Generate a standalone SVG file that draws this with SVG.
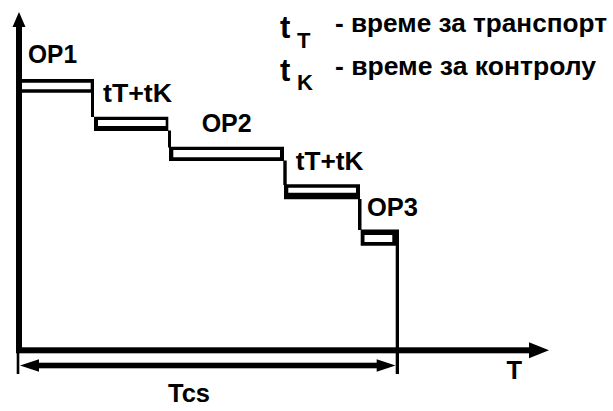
<svg xmlns="http://www.w3.org/2000/svg" width="613" height="411" viewBox="0 0 613 411">
<style>
.bg{fill:#ffffff}
.blk{fill:#000000;fill-rule:evenodd}
.lbl{font-family:"Liberation Sans",Arial,Helvetica,sans-serif;font-weight:bold;fill:#000000}
.leg{font-size:26px}
.big{font-size:31px}
.sub{font-size:22px}
.op{font-size:25.5px}
</style>
<rect class="bg" x="0" y="0" width="613" height="411"/>
<g id="connectors">
  <!-- Y axis -->
  <rect class="blk" x="16" y="26" width="6" height="327"/>
  <path class="blk" d="M19 12 L25.5 27 L12.5 27 Z"/>
  <!-- X axis -->
  <rect class="blk" x="16" y="347.3" width="514" height="6"/>
  <path class="blk" d="M549 350.3 L529 342.3 L529 358.3 Z"/>
  <!-- step connectors -->
  <rect class="blk" x="91" y="92" width="3" height="25"/>
  <rect class="blk" x="168" y="130.5" width="3" height="17"/>
  <rect class="blk" x="283.3" y="160.5" width="3.4" height="24.5"/>
  <rect class="blk" x="358" y="199" width="3.5" height="31"/>
  <rect class="blk" x="395.7" y="245" width="3.3" height="129"/>
  <!-- Tcs dimension -->
  <rect class="blk" x="16.7" y="351.7" width="2.6" height="22.3"/>
  <rect class="blk" x="36" y="362.7" width="343" height="5.6"/>
  <path class="blk" d="M20 365.5 L39 359.3 L39 371.7 Z"/>
  <path class="blk" d="M395.5 365.5 L376.7 359.3 L376.7 371.7 Z"/>
</g>
<g id="op1">
  <path class="blk" d="M19 79 H94 V92.7 H19 Z M22 82.7 V89.3 H90.7 V82.7 Z"/>
  <text class="lbl op" x="28" y="63.3" textLength="49" lengthAdjust="spacingAndGlyphs">OP1</text>
</g>
<g id="tk1">
  <path class="blk" d="M94 116.7 H168.3 V131 H94 Z M98 120 V126 H165.7 V120 Z"/>
  <text class="lbl op" x="103" y="101.7" textLength="69" lengthAdjust="spacingAndGlyphs">tT+tK</text>
</g>
<g id="op2">
  <path class="blk" d="M169 146.7 H284 V161 H169 Z M173.3 150 V157.3 H280 V150 Z"/>
  <text class="lbl op" x="201.7" y="132.3" textLength="50" lengthAdjust="spacingAndGlyphs">OP2</text>
</g>
<g id="tk2">
  <path class="blk" d="M284 184.3 H360 V199.3 H284 Z M288.3 187.7 V192.7 H356 V187.7 Z"/>
  <text class="lbl op" x="295.7" y="170" textLength="67.6" lengthAdjust="spacingAndGlyphs">tT+tK</text>
</g>
<g id="op3">
  <path class="blk" d="M360.7 229.5 H399 V245.7 H360.7 Z M364.5 235 V242 H392.3 V235 Z"/>
  <text class="lbl op" x="367" y="216.3" textLength="51" lengthAdjust="spacingAndGlyphs">OP3</text>
</g>
<g id="axis-labels">
  <text class="lbl op" x="506.5" y="379">T</text>
  <text class="lbl op" x="168" y="402">Tcs</text>
</g>
<g id="legend">
  <text class="lbl big" x="280" y="38">t</text>
  <text class="lbl sub" x="297" y="48">T</text>
  <text class="lbl leg" x="335" y="32" textLength="272" lengthAdjust="spacingAndGlyphs">- време за транспорт</text>
  <text class="lbl big" x="280" y="80.5">t</text>
  <text class="lbl sub" x="297" y="90">K</text>
  <text class="lbl leg" x="335" y="75" textLength="261" lengthAdjust="spacingAndGlyphs">- време за контролу</text>
</g>
</svg>
